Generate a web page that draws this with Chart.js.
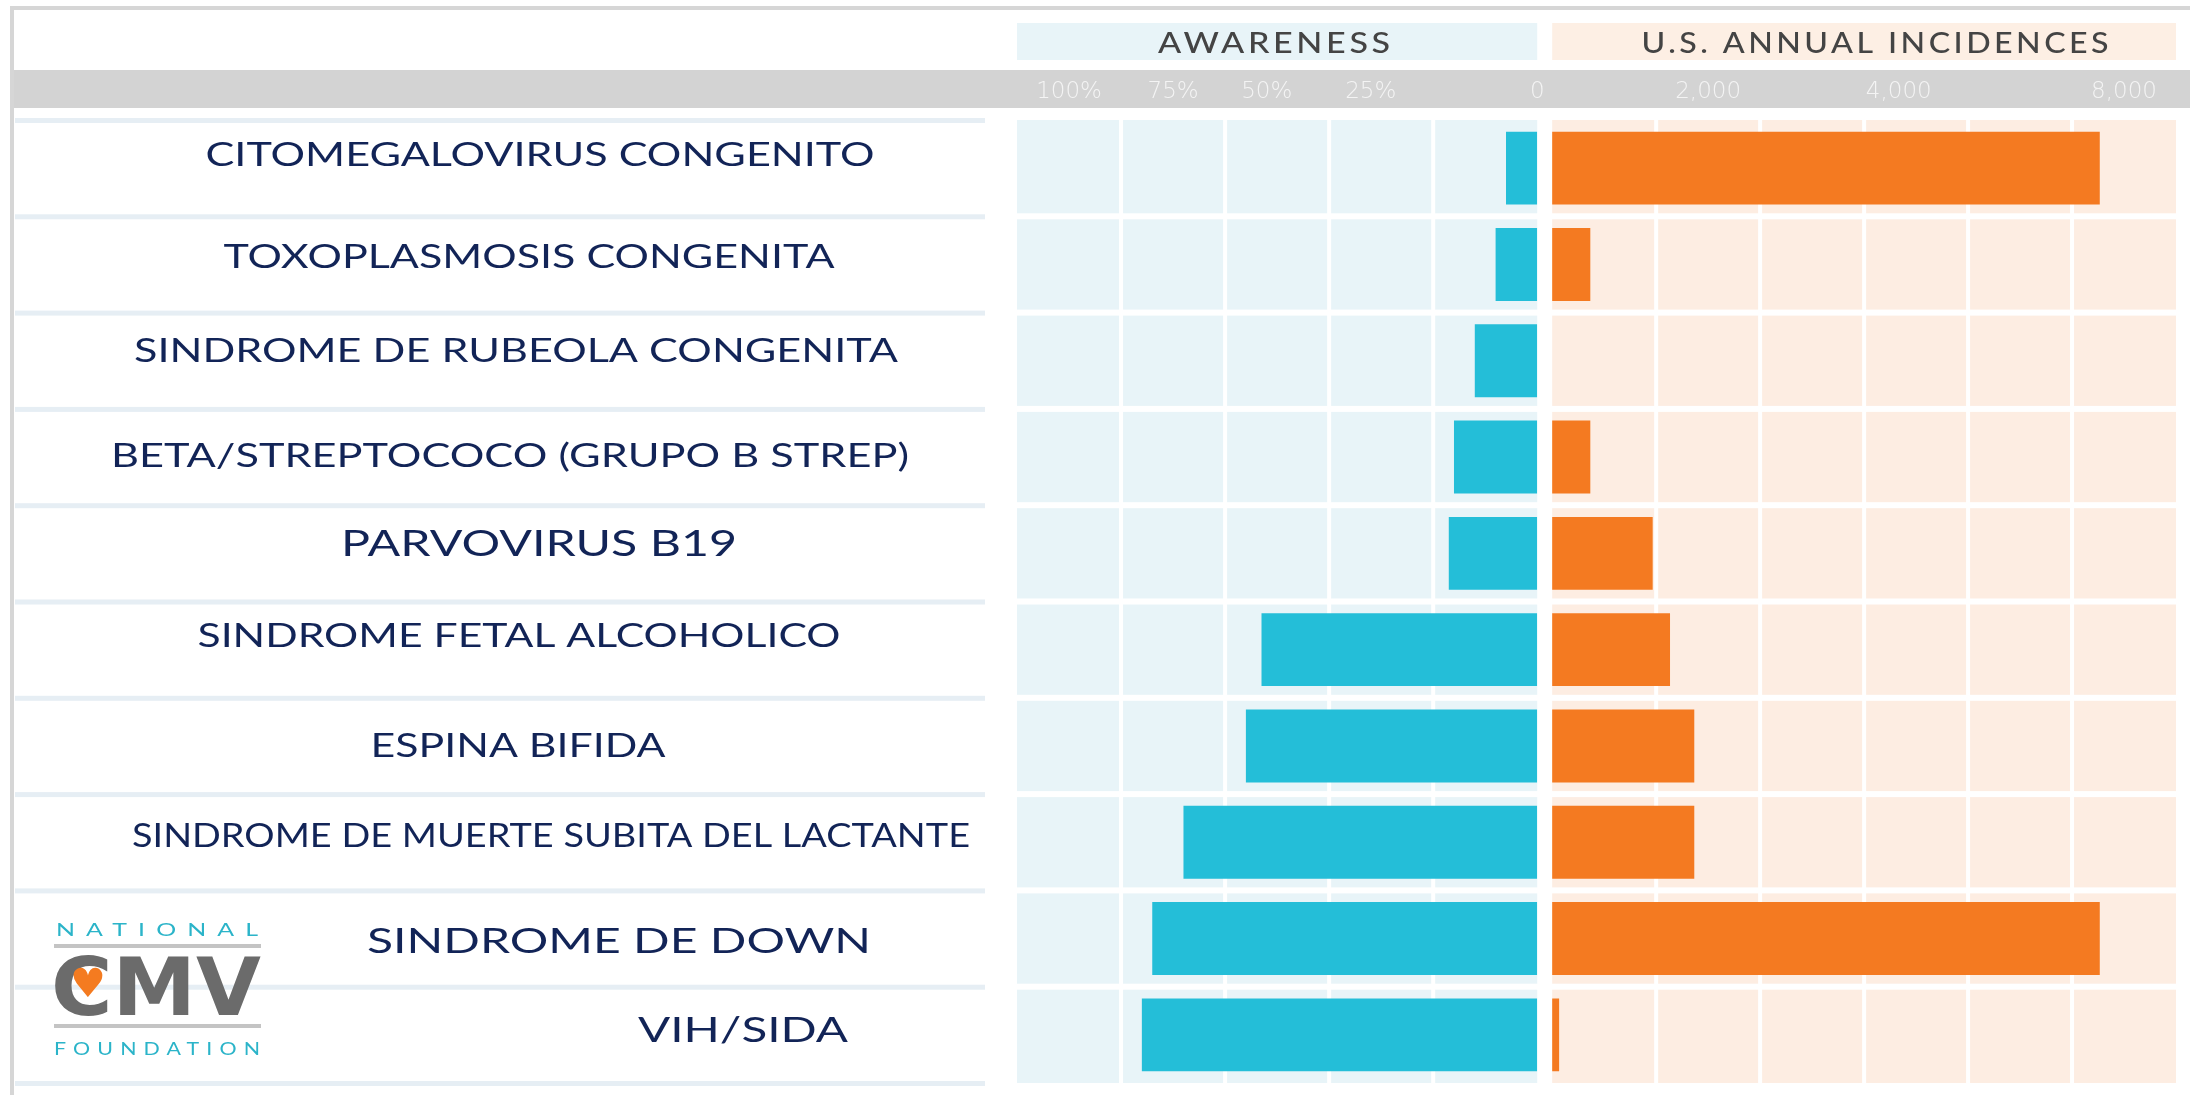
<!DOCTYPE html>
<html>
<head>
<meta charset="utf-8">
<script src="https://cdn.jsdelivr.net/npm/chart.js@4.4.1/dist/chart.umd.min.js"></script>
<style>
  html, body { margin: 0; padding: 0; background: #fff; }
  #wrap { width: 2190px; height: 1095px; position: relative; }
</style>
</head>
<body>
<div id="wrap"><canvas id="myChart"></canvas></div>
<script>
// Datos de la infografía
const categories = [
  'CITOMEGALOVIRUS CONGENITO',
  'TOXOPLASMOSIS CONGENITA',
  'SINDROME DE RUBEOLA CONGENITA',
  'BETA/STREPTOCOCO (GRUPO B STREP)',
  'PARVOVIRUS B19',
  'SINDROME FETAL ALCOHOLICO',
  'ESPINA BIFIDA',
  'SINDROME DE MUERTE SUBITA DEL LACTANTE',
  'SINDROME DE DOWN',
  'VIH/SIDA'
];
const awareness = [6, 8, 12, 16, 17, 53, 56, 68, 74, 76];          // %
const incidences = [7900, 550, 0, 550, 1450, 1700, 2050, 2050, 7900, 100];

const awarenessTicks = ['100%', '75%', '50%', '25%', '0'];
const awarenessTickAt = [-90, -70, -52, -32, 0];
const incidenceTicks = ['2,000', '4,000', '8,000'];
const incidenceTickAt = [2250, 5000, 8250];

const awarenessGrid = [-80, -60, -40, -20];
const incidenceGrid = [1500, 3000, 4500, 6000, 7500];

// estilo de las etiquetas (centro x, ancho, tamaño, desplazamiento y)
const labelLayout = [
  { cx: 540, w: 669, size: 33, dy: -14 },
  { cx: 529, w: 611, size: 33, dy: -8 },
  { cx: 516, w: 764, size: 33, dy: -11 },
  { cx: 510, w: 798, size: 33, dy: -2 },
  { cx: 539, w: 396, size: 37, dy: -10 },
  { cx: 519, w: 643, size: 33, dy: -15 },
  { cx: 518, w: 295, size: 33, dy: -1 },
  { cx: 551, w: 838, size: 32, dy: -7 },
  { cx: 619, w: 504, size: 35, dy: 2 },
  { cx: 743, w: 210, size: 35, dy: -5 }
];

function stretchText(ctx, text, cx, cy, width, font, color, spacing) {
  ctx.save();
  ctx.font = font;
  ctx.letterSpacing = (spacing || 0) + 'px';
  ctx.fillStyle = color;
  ctx.textAlign = 'left';
  ctx.textBaseline = 'alphabetic';
  const w = ctx.measureText(text).width - (spacing || 0);
  const cap = ctx.measureText('H').actualBoundingBoxAscent;
  ctx.translate(cx - width / 2, cy + cap / 2);
  ctx.scale(width / w, 1);
  ctx.fillText(text, 0, 0);
  ctx.restore();
}

const panelBg = {
  id: 'panelBg',
  beforeDraw(chart) {
    const { ctx, chartArea: a, scales: { xa, xi, y } } = chart;
    const W = chart.width, H = chart.height;
    const z0 = xa.getPixelForValue(0), z1 = xi.getPixelForValue(0);
    ctx.save();
    ctx.fillStyle = '#fff';
    ctx.fillRect(0, 0, W, H);
    // marco
    ctx.fillStyle = '#d6d6d6';
    ctx.fillRect(10, 6, W - 10, 4);
    ctx.fillRect(10, 6, 4, H - 6);
    // cabeceras
    ctx.fillStyle = '#e8f4f8';
    ctx.fillRect(xa.left, 23, z0 - xa.left, 37);
    ctx.fillStyle = '#fdefe4';
    ctx.fillRect(z1, 23, xi.right - z1, 37);
    // banda gris
    ctx.fillStyle = '#d3d3d3';
    ctx.fillRect(14, 70, W - 14, 38);
    // paneles
    ctx.fillStyle = '#e8f4f8';
    ctx.fillRect(xa.left, a.top, z0 - xa.left, a.bottom - a.top);
    ctx.fillStyle = '#fdede2';
    ctx.fillRect(z1, a.top, xi.right - z1, a.bottom - a.top);
    // rejilla vertical
    ctx.fillStyle = '#fff';
    awarenessGrid.forEach(v => {
      const p = xa.getPixelForValue(v);
      ctx.fillRect(p - 2, a.top, 4, a.bottom - a.top);
    });
    incidenceGrid.forEach(v => {
      const p = xi.getPixelForValue(v);
      ctx.fillRect(p - 2, a.top, 4, a.bottom - a.top);
    });
    // separadores de filas
    const n = categories.length;
    for (let i = 0; i <= n; i++) {
      let yy;
      if (i === 0) yy = a.top;
      else if (i === n) yy = a.bottom;
      else yy = (y.getPixelForValue(i - 1) + y.getPixelForValue(i)) / 2;
      if (i > 0 && i < n) {
        ctx.fillStyle = '#fff';
        ctx.fillRect(xa.left, yy - 3, xi.right - xa.left, 6);
      }
      ctx.fillStyle = '#e6eef4';
      ctx.fillRect(15, yy - 2, 970, 5);
    }
    ctx.restore();
  },
  afterDraw(chart) {
    const { ctx, scales: { xa, xi, y } } = chart;
    const z0 = xa.getPixelForValue(0), z1 = xi.getPixelForValue(0);
    stretchText(ctx, 'AWARENESS', (xa.left + z0) / 2 - 3, 42, 232, '500 28px Lato', '#444', 3);
    stretchText(ctx, 'U.S. ANNUAL INCIDENCES', (z1 + xi.right) / 2 + 11, 42, 467, '500 28px Lato', '#444', 3);

    categories.forEach((c, i) => {
      const L = labelLayout[i];
      stretchText(ctx, c, L.cx, y.getPixelForValue(i) + L.dy, L.w, '400 ' + L.size + 'px Lato', '#122457', 0);
    });

    // logo
    stretchText(ctx, 'NATIONAL', 157, 929, 202, '400 18px Lato', '#2bb4c9', 8);
    ctx.save();
    ctx.fillStyle = '#c4c4c4';
    ctx.fillRect(54, 944, 207, 4);
    ctx.fillRect(54, 1024, 207, 4);
    ctx.restore();
    stretchText(ctx, 'CMV', 156, 985, 210, '700 80px "DejaVu Sans"', '#6b6b6b', 0);
    ctx.save();
    ctx.font = '40px "DejaVu Sans"';
    ctx.fillStyle = '#f47b20';
    ctx.textAlign = 'center';
    ctx.textBaseline = 'middle';
    ctx.fillText('\u2665', 88, 987);
    ctx.restore();
    stretchText(ctx, 'FOUNDATION', 157, 1048, 206, '400 18px Lato', '#2bb4c9', 6);
  }
};

const tickFont = { family: '"DejaVu Sans"', size: 23, weight: '300' };

var ctx = document.getElementById('myChart').getContext('2d');
var myChart = new Chart(ctx, {
  type: 'bar',
  data: {
    labels: categories,
    datasets: [{
      label: 'Awareness',
      data: awareness.map(v => -v),
      xAxisID: 'xa',
      backgroundColor: '#24bed8',
      borderWidth: 0,
      barPercentage: 0.757,
      categoryPercentage: 1,
      grouped: false
    }, {
      label: 'U.S. annual incidences',
      data: incidences,
      xAxisID: 'xi',
      backgroundColor: '#f47a21',
      borderWidth: 0,
      barPercentage: 0.757,
      categoryPercentage: 1,
      grouped: false
    }]
  },
  options: {
    indexAxis: 'y',
    responsive: true,
    maintainAspectRatio: false,
    animation: false,
    events: [],
    layout: { padding: { left: 1017, right: 10, top: 0, bottom: 12 } },
    plugins: { legend: { display: false }, tooltip: { enabled: false } },
    scales: {
      y: { display: false },
      xi: {
        type: 'linear', position: 'top', stack: 'x', stackWeight: 641,
        min: -216, max: 9000,
        grid: { display: false }, border: { display: false },
        afterBuildTicks: s => { s.ticks = incidenceTickAt.map(v => ({ value: v })); },
        afterFit: s => { s.height = 120; },
        ticks: {
          autoSkip: false, maxRotation: 0, padding: 6,
          color: '#f4f4f4', font: tickFont,
          callback: (v, i) => incidenceTicks[i]
        }
      },
      xa: {
        type: 'linear', position: 'top', stack: 'x', stackWeight: 522,
        min: -100, max: 0,
        grid: { display: false }, border: { display: false },
        afterBuildTicks: s => { s.ticks = awarenessTickAt.map(v => ({ value: v })); },
        afterFit: s => { s.height = 120; },
        ticks: {
          autoSkip: false, maxRotation: 0, padding: 6,
          color: '#f4f4f4', font: tickFont,
          callback: (v, i) => awarenessTicks[i]
        }
      }
    }
  },
  plugins: [panelBg]
});
</script>
</body>
</html>
